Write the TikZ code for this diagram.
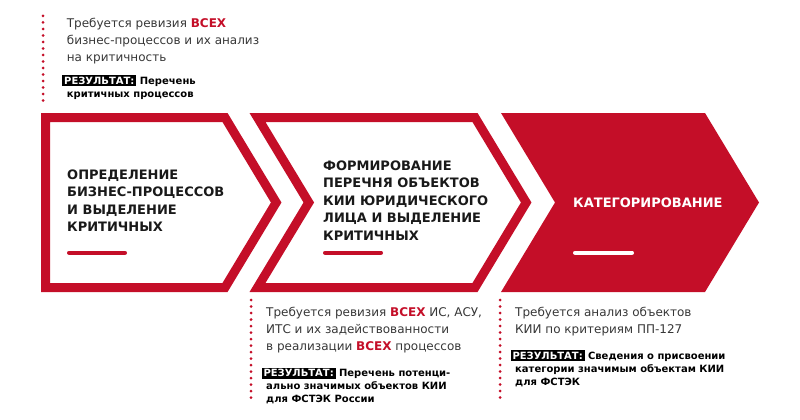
\documentclass[tikz,border=0pt]{standalone}
\usepackage{fontspec}
\setmainfont{DejaVu Sans}
\usepackage{xcolor}

\definecolor{kiired}{RGB}{196,14,40}
\definecolor{notegray}{RGB}{55,55,55}
\setlength{\fboxsep}{1.8pt}
\newcommand{\redword}[1]{{\bfseries\color{kiired}#1}}
\newcommand{\resbox}{\colorbox{black}{\color{white}РЕЗУЛЬТАТ:}}
\newcommand{\resind}{\hspace*{4.5pt}}

\begin{document}
\begin{tikzpicture}[x=1pt, y=-1pt,
        frame/.style={draw=kiired, line width=9pt, line join=miter},
        bar/.style={line width=4pt, line cap=round},
        dots/.style={draw=kiired, line width=3pt, line cap=round, dash pattern=on 0pt off 6.5pt},
        title/.style={anchor=north west, inner sep=0pt, align=left, text=black!90,
            font=\bfseries\fontsize{13}{17.5}\selectfont},
        note/.style={anchor=north west, inner sep=0pt, align=left, text=notegray,
            font=\fontsize{12}{17}\selectfont},
        result/.style={anchor=north west, inner sep=0pt, align=left, text=black,
            font=\bfseries\fontsize{10}{13}\selectfont}]
    \useasboundingbox (0,0) rectangle (800,420);

    %chevrons
    \draw[frame] (45.5,117.5) -- (225,117.5) -- (276.2,202.5) -- (225,287.5) -- (45.5,287.5) -- cycle;
    \draw[frame] (257.5,117.5) -- (475,117.5) -- (526.2,202.5) -- (475,287.5) -- (257.5,287.5) -- (308.8,202.5) -- cycle;
    \fill[kiired] (501,113) -- (705,113) -- (759,202.5) -- (705,292) -- (501,292) -- (555,202.5) -- cycle;

    % Stage 1
    \node[title] (stage1) at (67,169.3) {ОПРЕДЕЛЕНИЕ\\БИЗНЕС-ПРОЦЕССОВ\\И ВЫДЕЛЕНИЕ\\КРИТИЧНЫХ};
    \coordinate (bar1a) at (69,252.7);
    \coordinate (bar1b) at (125,252.7);
    \draw[bar, kiired] (bar1a) -- (bar1b);

    % Stage 2
    \node[title] (stage2) at (323,160.6) {ФОРМИРОВАНИЕ\\ПЕРЕЧНЯ ОБЪЕКТОВ\\КИИ ЮРИДИЧЕСКОГО\\ЛИЦА И ВЫДЕЛЕНИЕ\\КРИТИЧНЫХ};
    \coordinate (bar2a) at (325,252.7);
    \coordinate (bar2b) at (381,252.7);
    \draw[bar, kiired] (bar2a) -- (bar2b);

    % Stage 3
    \node[title, text=white] (stage3) at (573,197.6) {КАТЕГОРИРОВАНИЕ};
    \coordinate (bar3a) at (575,252.7);
    \coordinate (bar3b) at (632,252.7);
    \draw[bar, white] (bar3a) -- (bar3b);

    %notes
    \coordinate (dots1a) at (43,16);
    \coordinate (dots1b) at (43,106);
    \draw[dots] (dots1a) -- (dots1b);
    \node[note] (note1) at (66.7,18.2) {Требуется ревизия \redword{ВСЕХ}\\бизнес-процессов и их анализ\\на критичность};
    \node[result] (result1) at (62.2,74.7) {\resbox{} Перечень\\\resind критичных процессов};

    \coordinate (dots2a) at (251,300);
    \coordinate (dots2b) at (251,402);
    \draw[dots] (dots2a) -- (dots2b);
    \node[note] (note2) at (266,306.5) {Требуется ревизия \redword{ВСЕХ} ИС, АСУ,\\ИТС и их задействованности\\в реализации \redword{ВСЕХ} процессов};
    \node[result] (result2) at (261.5,367.4) {\resbox{} Перечень потенци-\\\resind ально значимых объектов КИИ\\\resind для ФСТЭК России};

    \coordinate (dots3a) at (500,300);
    \coordinate (dots3b) at (500,402);
    \draw[dots] (dots3a) -- (dots3b);
    \node[note] (note3) at (515,306.8) {Требуется анализ объектов\\КИИ по критериям ПП-127};
    \node[result] (result3) at (510.5,349.7) {\resbox{} Сведения о присвоении\\\resind категории значимым объектам КИИ\\\resind для ФСТЭК};
\end{tikzpicture}
\end{document}
